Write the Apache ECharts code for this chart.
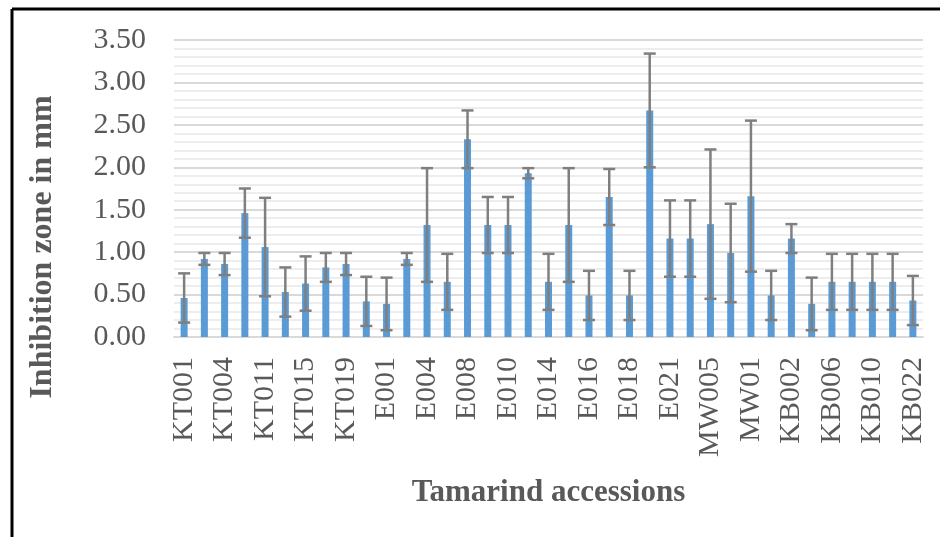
<!DOCTYPE html>
<html>
<head>
<meta charset="utf-8">
<script src="https://cdn.jsdelivr.net/npm/echarts@6/dist/echarts.min.js"></script>
<style>html,body{margin:0;padding:0;background:#fff}#c{width:940px;height:537px}</style>
</head>
<body>
<div id="c"></div>
<script>
const categories = ["KT001","KT002","KT004","KT008","KT011","KT013","KT015","KT017","KT019","KT020",
  "E001","E003","E004","E007","E008","E009","E010","E013","E014","E015","E016","E017","E018","E020","E021",
  "MW002","MW005","MW007","MW01",
  "KB001","KB002","KB004","KB006","KB008","KB010","KB015","KB022"];
const means = [0.46,0.92,0.86,1.46,1.06,0.53,0.63,0.82,0.86,0.42,0.39,0.92,1.32,0.65,2.33,1.32,1.32,1.93,0.65,1.32,0.49,1.65,0.49,2.67,1.16,1.16,1.33,0.99,1.66,0.49,1.16,0.39,0.65,0.65,0.65,0.65,0.43];
const errors = [0.29,0.07,0.13,0.29,0.58,0.29,0.32,0.17,0.13,0.29,0.31,0.07,0.67,0.33,0.34,0.33,0.33,0.06,0.33,0.67,0.29,0.33,0.29,0.67,0.45,0.45,0.88,0.58,0.89,0.29,0.17,0.31,0.33,0.33,0.33,0.33,0.29];
const yTicks = [0,0.5,1,1.5,2,2.5,3,3.5];
const yTitle = 'Inhibition zone in mm';
const xTitle = 'Tamarind accessions';

const errData = means.map((m,i)=>[i, m - errors[i], m + errors[i]]);
const font = '"Liberation Serif","Times New Roman",serif';

const chart = echarts.init(document.getElementById('c'));
chart.setOption({
  animation:false,
  grid:{left:174,right:17,top:40,bottom:200},
  graphic:[
    {type:'line',shape:{x1:12,y1:9,x2:940,y2:9},style:{stroke:'#000',lineWidth:3}},
    {type:'line',shape:{x1:12,y1:9,x2:12,y2:537},style:{stroke:'#000',lineWidth:3}},
    {type:'text', x:43, y:247, rotation:Math.PI/2,
      style:{text:yTitle, fill:'#595959', font:'bold 32px "Liberation Serif","Times New Roman",serif',
        textAlign:'center', textVerticalAlign:'middle'}}
  ],
  xAxis:{
    type:'category', data:categories,
    axisTick:{show:false},
    axisLine:{lineStyle:{color:'#d9d9d9',width:2}},
    axisLabel:{interval:1, rotate:90, margin:20, color:'#595959', fontFamily:font, fontSize:30},
    name:xTitle, nameLocation:'middle', nameGap:140,
    nameTextStyle:{color:'#595959', fontFamily:font, fontSize:31, fontWeight:'bold'}
  },
  yAxis:{
    type:'value', min:yTicks[0], max:yTicks[yTicks.length-1], interval:0.5,
    axisLine:{show:false}, axisTick:{show:false},
    axisLabel:{formatter:v=>v.toFixed(2), color:'#595959', fontFamily:font, fontSize:30, margin:28},
    splitLine:{lineStyle:{color:'#d9d9d9',width:2}},
    minorTick:{show:false, splitNumber:5},
    minorSplitLine:{show:true, lineStyle:{color:'#e8e8e8',width:1.5}}
  },
  series:[
    {type:'bar', data:means, barWidth:7, itemStyle:{color:'#5b9bd5'}},
    {type:'custom', data:errData, z:10,
      renderItem:function(params, api){
        const x = api.value(0);
        const lo = api.coord([x, api.value(1)]);
        const hi = api.coord([x, api.value(2)]);
        const hw = 6;
        const st = {stroke:'#7f7f7f', lineWidth:2.5};
        return {type:'group', children:[
          {type:'line', shape:{x1:lo[0],y1:lo[1],x2:hi[0],y2:hi[1]}, style:st},
          {type:'line', shape:{x1:lo[0]-hw,y1:lo[1],x2:lo[0]+hw,y2:lo[1]}, style:st},
          {type:'line', shape:{x1:hi[0]-hw,y1:hi[1],x2:hi[0]+hw,y2:hi[1]}, style:st}
        ]};
      }
    }
  ]
});
</script>
</body>
</html>
